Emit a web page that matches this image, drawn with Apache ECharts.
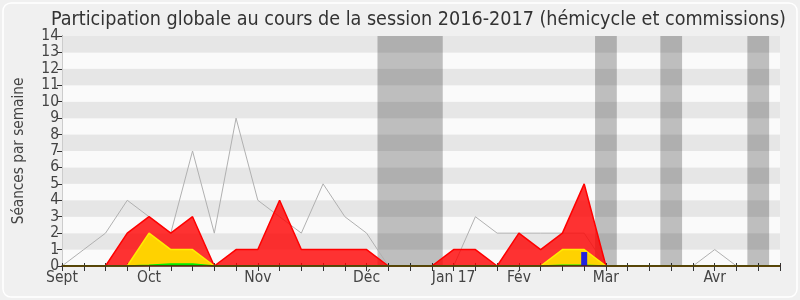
<!DOCTYPE html>
<html><head><meta charset="utf-8">
<script src="https://cdn.jsdelivr.net/npm/echarts@6/dist/echarts.min.js"></script>
<style>html,body{margin:0;padding:0;background:#f0f0f0}#c{width:800px;height:300px}</style>
</head><body><div id="c"></div><script>
// week index 0..33
const weekCount = 34;
const labelPositions = [0, 4, 9, 14, 18, 21, 25, 30];
const labelTexts = ['Sept', 'Oct', 'Nov', 'Déc', 'Jan 17', 'Fév', 'Mar', 'Avr'];
const totalSeances = [0,1,2,4,3,2,7,2,9,4,3,2,5,3,2,0,0,0,0,3,2,2,2,2,2,0,0,0,0,0,1,0,0,0];
const commission   = [0,0,0,2,3,2,3,0,1,1,4,1,1,1,1,0,0,0,1,1,0,2,1,2,5,0,0,0,0,0,0,0,0,0];
const hemicycle    = [0,0,0,0,2,1,1,0,0,0,0,0,0,0,0,0,0,0,0,0,0,0,0,1,1,0,0,0,0,0,0,0,0,0];
const interventions= [0,0,0,0,0.05,0.12,0.12,0,0,0,0,0,0,0,0,0,0,0,0,0,0,0,0,0.05,0.05,0,0,0,0,0,0,0,0,0];
const questions    = [0,0,0,0,0,0,0,0,0,0,0,0,0,0,0,0,0,0,0,0,0,0,0,0,0.85,0,0,0,0,0,0,0,0,0];
const vacances = [[14.5, 17.5], [24.5, 25.5], [27.5, 28.5], [31.5, 32.5]];

const pairs = arr => arr.map((v, i) => [i, v]);
const FONT = 'DejaVu Sans Condensed';
const chart = echarts.init(document.getElementById('c'));
chart.setOption({
  animation: false,
  backgroundColor: 'transparent',
  graphic: [{type: 'rect', z: -10, shape: {x: 3, y: 3, width: 794, height: 294, r: 8},
    style: {fill: '#f0f0f0', stroke: '#ffffff', lineWidth: 1.5}}],
  title: {text: 'Participation globale au cours de la session 2016-2017 (hémicycle et commissions)',
    left: 46, top: 5, textStyle: {fontFamily: FONT, fontSize: 19.6, fontWeight: 'normal', color: '#333'}},
  grid: {left: 62, right: 20, top: 36, bottom: 34},
  xAxis: [{
    type: 'value', min: 0, max: weekCount - 1, interval: 1, z: 10,
    axisLine: {show: true, onZero: false, lineStyle: {color: '#5a1408', width: 1.5}},
    axisTick: {show: true, length: 5, lineStyle: {color: '#333'}},
    splitLine: {show: false},
    axisLabel: {fontFamily: FONT, fontSize: 15.5, color: '#444', margin: 4,
      formatter: v => { const k = labelPositions.indexOf(v); return k >= 0 ? labelTexts[k] : ''; }}
  }, {
    type: 'value', position: 'top', min: 0, max: weekCount - 1, interval: 1,
    axisLine: {show: false}, axisTick: {show: true, length: 3, lineStyle: {color: '#333'}},
    axisLabel: {show: false}, splitLine: {show: false}
  }],
  yAxis: [{
    type: 'value', min: 0, max: 14, interval: 1,
    name: 'Séances par semaine', nameLocation: 'middle', nameGap: 35,
    nameTextStyle: {fontFamily: FONT, fontSize: 15.2, color: '#444'},
    axisLine: {show: true, lineStyle: {color: '#333'}},
    axisTick: {show: true, length: 5, lineStyle: {color: '#333'}},
    axisLabel: {fontFamily: FONT, fontSize: 15.5, color: '#444', margin: 3},
    splitLine: {show: false},
    splitArea: {show: true, areaStyle: {color: ['#fafafa', '#e6e6e6']}}
  }, {
    type: 'value', position: 'right', min: 0, max: 14, interval: 1,
    axisLine: {show: true, lineStyle: {color: '#cccccc'}}, axisTick: {show: false},
    axisLabel: {show: false}, splitLine: {show: false}
  }],
  series: [
    {type: 'line', name: 'total', data: pairs(totalSeances), symbol: 'none', z: 1,
      lineStyle: {color: '#b0b0b0', width: 1},
      markArea: {silent: true, itemStyle: {color: 'rgba(0,0,0,0.24)'},
        data: vacances.map(b => [{xAxis: b[0]}, {xAxis: b[1]}])}},
    {type: 'line', name: 'commission', data: pairs(commission), symbol: 'none', z: 3,
      lineStyle: {color: '#ff0000', width: 1.5}, areaStyle: {color: 'rgba(255,0,0,0.8)', opacity: 1}},
    {type: 'line', name: 'hemicycle', data: pairs(hemicycle), symbol: 'none', z: 4,
      lineStyle: {color: '#ffee00', width: 1.5}, areaStyle: {color: '#ffd200', opacity: 1}},
    {type: 'line', name: 'interventions', data: pairs(interventions), symbol: 'none', z: 5,
      lineStyle: {color: '#00ee00', width: 1.5}, areaStyle: {color: '#00dd00', opacity: 1}},
    {type: 'bar', name: 'questions', data: pairs(questions), barWidth: 6, z: 6,
      itemStyle: {color: '#2222dd'}}
  ]
});
</script></body></html>
